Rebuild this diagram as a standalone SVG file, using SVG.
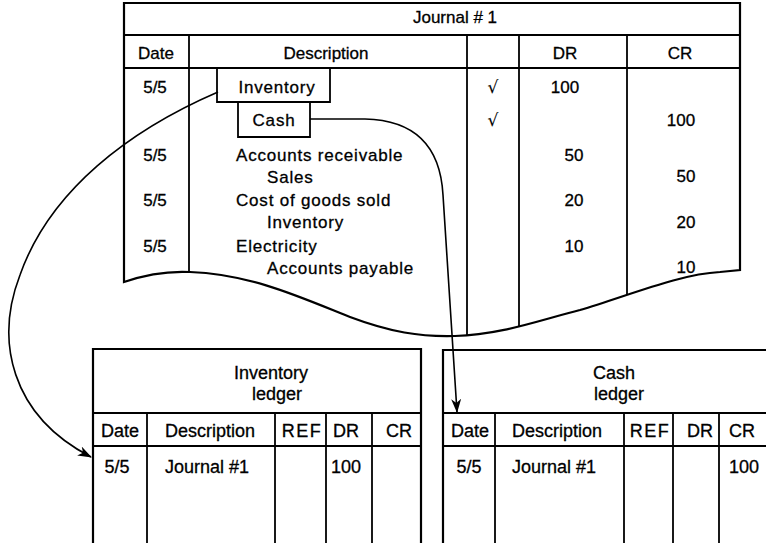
<svg xmlns="http://www.w3.org/2000/svg" width="766" height="543" viewBox="0 0 766 543">
<style>
  text { font-family: "Liberation Sans", Arial, sans-serif; fill: #000; stroke: #000; stroke-width: 0.3; }
  .j { font-size: 17px; }
  .b { letter-spacing: 0.8px; }
  .l { font-size: 18px; }
  .m { text-anchor: middle; }
  .ck { font-family: "DejaVu Sans", sans-serif; font-size: 17px; font-style: italic; stroke-width: 0.1; }
  .outer { fill: none; stroke: #000; stroke-width: 2.2; }
  .inner { fill: none; stroke: #000; stroke-width: 1.8; }
  .conn { fill: none; stroke: #000; stroke-width: 1.6; }
</style>
<defs>
  <clipPath id="jclip">
    <path d="M124,3 L740,3 L740,270 L720,272 C680,274 630,295 580,310 C540,320 500,335 455,336 C420,337 390,332 350,317 C300,297 250,274 190,272 C170,271 150,273 124,282 Z"/>
  </clipPath>
  <marker id="arrow" viewBox="0 0 14 10" refX="13" refY="5" markerWidth="14" markerHeight="10" markerUnits="userSpaceOnUse" orient="auto">
    <path d="M0,0 L14,5 L0,10 L4,5 Z" fill="#000"/>
  </marker>
</defs>
<rect width="766" height="543" fill="#fff"/>

<g id="journal">
  <path class="outer" d="M124,282 L124,3 L740,3 L740,270 L720,272 C680,274 630,295 580,310 C540,320 500,335 455,336 C420,337 390,332 350,317 C300,297 250,274 190,272 C170,271 150,273 124,282 Z"/>
  <g clip-path="url(#jclip)">
    <line class="inner" x1="124" y1="35" x2="740" y2="35"/>
    <line class="inner" x1="124" y1="68" x2="740" y2="68"/>
    <line class="inner" x1="189" y1="35" x2="189" y2="340"/>
    <line class="inner" x1="467" y1="35" x2="467" y2="340"/>
    <line class="inner" x1="519" y1="35" x2="519" y2="340"/>
    <line class="inner" x1="627" y1="35" x2="627" y2="340"/>
  </g>
  <text class="j m" x="455" y="23">Journal # 1</text>
  <text class="j m" x="156" y="59">Date</text>
  <text class="j m" x="326" y="59">Description</text>
  <text class="j m" x="565" y="59">DR</text>
  <text class="j m" x="680" y="59">CR</text>

  <text class="j m" x="155" y="93">5/5</text>
  <text class="ck m" x="493" y="93">√</text>
  <text class="j m" x="565" y="93">100</text>
  <text class="ck m" x="493" y="126">√</text>
  <text class="j m" x="681" y="126">100</text>

  <text class="j m" x="155" y="161">5/5</text>
  <text class="j b" x="236" y="161">Accounts receivable</text>
  <text class="j m" x="574" y="161">50</text>
  <text class="j b" x="267" y="183">Sales</text>
  <text class="j m" x="686" y="182">50</text>

  <text class="j m" x="155" y="206">5/5</text>
  <text class="j b" x="236" y="206">Cost of goods sold</text>
  <text class="j m" x="574" y="206">20</text>
  <text class="j b" x="267" y="228">Inventory</text>
  <text class="j m" x="686" y="228">20</text>

  <text class="j m" x="155" y="252">5/5</text>
  <text class="j b" x="236" y="252">Electricity</text>
  <text class="j m" x="574" y="252">10</text>
  <text class="j b" x="267" y="274">Accounts payable</text>
  <text class="j m" x="686" y="273">10</text>
</g>

<g id="inventory-entry">
  <path class="inner" d="M217,68 L217,102 L330,102 L330,68"/>
  <text class="j b m" x="277" y="93">Inventory</text>
</g>

<g id="cash-entry">
  <path class="inner" d="M238,102 L238,137 L310,137 L310,102"/>
  <text class="j b m" x="274" y="126">Cash</text>
</g>

<g id="inventory-ledger">
  <path class="outer" d="M93,543 L93,349 L421,349 L421,543"/>
  <line class="inner" x1="93" y1="413" x2="421" y2="413"/>
  <line class="inner" x1="93" y1="446" x2="421" y2="446"/>
  <line class="inner" x1="147" y1="413" x2="147" y2="543"/>
  <line class="inner" x1="275" y1="413" x2="275" y2="543"/>
  <line class="inner" x1="326" y1="413" x2="326" y2="543"/>
  <line class="inner" x1="372" y1="413" x2="372" y2="543"/>
  <text class="l m" x="271" y="379">Inventory</text>
  <text class="l m" x="277" y="400">ledger</text>
  <text class="l m" x="120" y="437">Date</text>
  <text class="l m" x="210" y="437">Description</text>
  <text class="l m" x="302" y="437" letter-spacing="1.5">REF</text>
  <text class="l m" x="346" y="437">DR</text>
  <text class="l m" x="399" y="437">CR</text>
  <text class="l m" x="117" y="473">5/5</text>
  <text class="l" x="165" y="473">Journal #1</text>
  <text class="l m" x="346" y="473">100</text>
</g>

<g id="cash-ledger">
  <path class="outer" d="M443,543 L443,350 L766,350"/>
  <line class="inner" x1="443" y1="413" x2="766" y2="413"/>
  <line class="inner" x1="443" y1="446" x2="766" y2="446"/>
  <line class="inner" x1="495" y1="413" x2="495" y2="543"/>
  <line class="inner" x1="624" y1="413" x2="624" y2="543"/>
  <line class="inner" x1="673" y1="413" x2="673" y2="543"/>
  <line class="inner" x1="719" y1="413" x2="719" y2="543"/>
  <text class="l m" x="614" y="379">Cash</text>
  <text class="l m" x="619" y="400">ledger</text>
  <text class="l m" x="470" y="437">Date</text>
  <text class="l m" x="557" y="437">Description</text>
  <text class="l m" x="650" y="437" letter-spacing="1.5">REF</text>
  <text class="l m" x="700" y="437">DR</text>
  <text class="l m" x="742" y="437">CR</text>
  <text class="l m" x="469" y="473">5/5</text>
  <text class="l" x="512" y="473">Journal #1</text>
  <text class="l m" x="744" y="473">100</text>
</g>

<g id="connectors">
  <path class="conn" d="M218,92 C130,130 50,190 20,275 C-5,340 10,415 91,457" marker-end="url(#arrow)"/>
  <path class="conn" d="M310,119 L365,119 C408,120 440,140 443,195 L457,412" marker-end="url(#arrow)"/>
</g>
</svg>
